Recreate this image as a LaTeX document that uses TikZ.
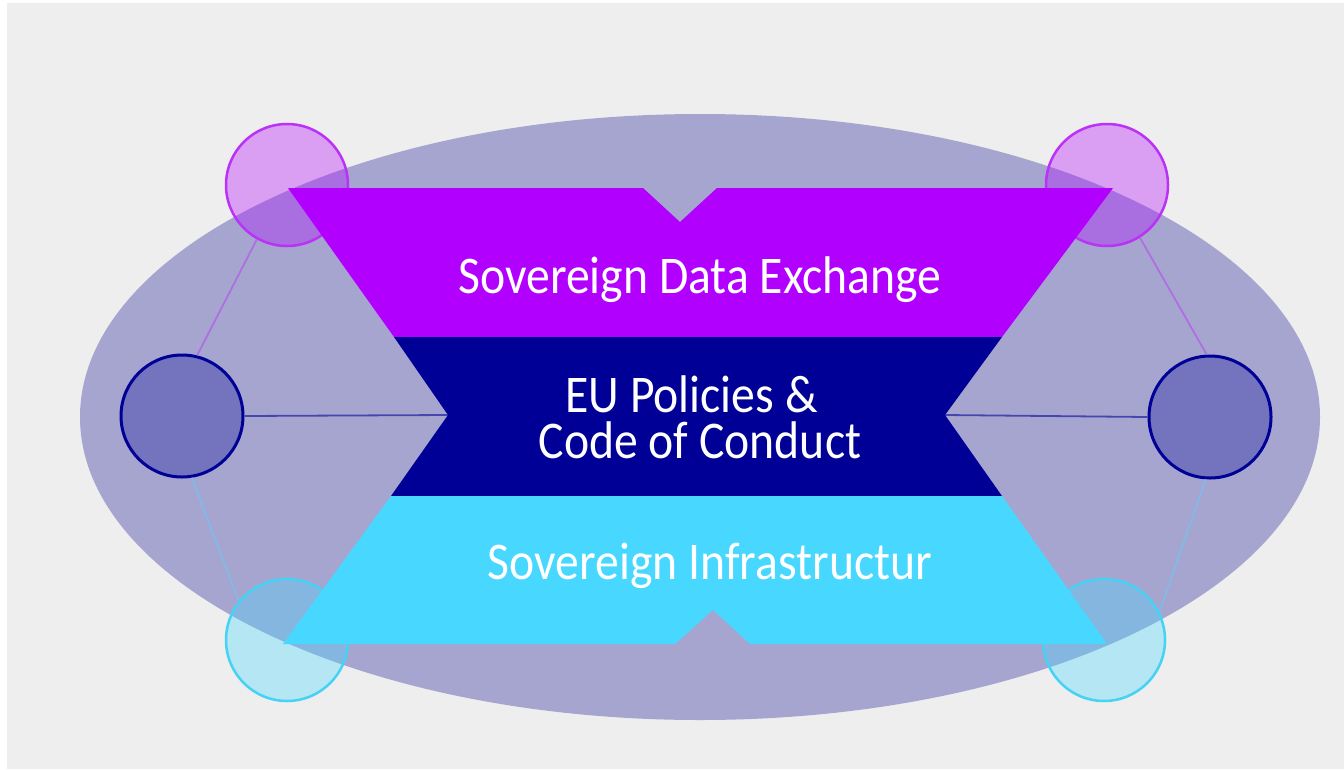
\documentclass[tikz,border=0pt]{standalone}
\usepackage{fontspec}
\newfontfamily\bandfont[FakeStretch=0.9]{Carlito}
\definecolor{bggray}{RGB}{238,238,238}
\definecolor{ovalfill}{RGB}{165,165,208}
\definecolor{bandpurple}{RGB}{178,0,255}
\definecolor{bandnavy}{RGB}{0,0,150}
\definecolor{bandcyan}{RGB}{72,216,255}
\definecolor{ringpurple}{RGB}{185,50,245}
\definecolor{ringcyan}{RGB}{70,210,245}
\definecolor{linkpurple}{RGB}{175,110,225}
\definecolor{linkblue}{RGB}{130,185,230}
\definecolor{linknavy}{RGB}{70,70,175}

\begin{document}
\begin{tikzpicture}[x=1pt,y=-1pt,
	ring/.style={circle,inner sep=0pt,minimum size=122pt,line width=2.5pt},
	topring/.style={ring,draw=ringpurple,fill=bandpurple,fill opacity=0.33},
	midring/.style={ring,draw=bandnavy,fill=bandnavy,fill opacity=0.3,line width=3pt},
	lowring/.style={ring,draw=ringcyan,fill=bandcyan,fill opacity=0.35},
	link/.style={draw,line width=1.8pt},
	bandtext/.style={text=white,font=\bandfont\fontsize{53}{46}\selectfont,inner sep=0pt}]
\useasboundingbox (0,0) rectangle (1344,769);
\fill[white] (0,0) rectangle (1344,769);
\fill[bggray] (7,3) rectangle (1344,769);
\fill[ovalfill] (700,417) ellipse [x radius=620pt,y radius=303pt];
% tips of the middle band
\coordinate (ltip) at (448,415);
\coordinate (rtip) at (945,415);
% circles round the oval
\node[topring] (tl) at (287,185) {};
\node[topring] (tr) at (1107,185) {};
\node[midring] (ml) at (182,416) {};
\node[midring] (mr) at (1210,417) {};
\node[lowring] (bl) at (287,640) {};
\node[lowring] (br) at (1104,640) {};
\path[link,draw=linkpurple] (tl.241) -- (ml.76);
\path[link,draw=linkblue] (ml.279) -- (bl.141);
\path[link,draw=linknavy] (ml.east) -- (ltip);
\path[link,draw=linkpurple] (tr.302) -- (mr.93);
\path[link,draw=linkblue] (mr.266) -- (br.27);
\path[link,draw=linknavy] (mr.west) -- (rtip);
% the three bands
\fill[bandpurple] (288,188) -- (643,188) -- (680,222) -- (717,188) -- (1113,188)
	-- (1002,337) -- (394,337) -- cycle;
\fill[bandnavy] (394,337) -- (1002,337) -- (rtip) -- (1002,496) -- (391,496) -- (ltip) -- cycle;
\fill[bandcyan] (391,496) -- (1002,496) -- (1107,644) -- (750,644) -- (713,610)
	-- (675,644) -- (283,644) -- cycle;
\node[bandtext,anchor=base] (exchange) at (700,293) {Sovereign Data Exchange};
\node[bandtext,align=center] (policies) at (700,417) {EU Policies \&\hspace*{17pt}\\Code of Conduct};
\node[bandtext,anchor=base] (infra) at (710,579) {Sovereign Infrastructur};
\end{tikzpicture}
\end{document}
